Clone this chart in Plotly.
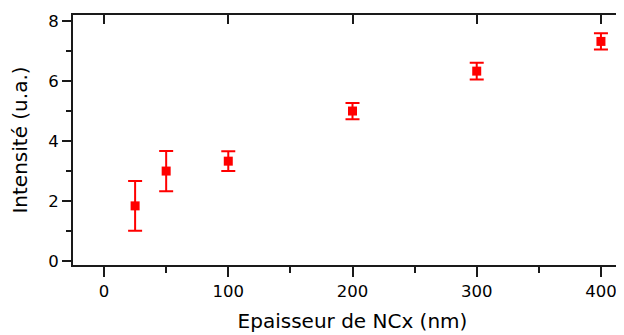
import plotly.graph_objects as go

thickness_nm = [25, 50, 100, 200, 300, 400]
intensity = [1.84, 3.0, 3.33, 5.0, 6.33, 7.32]
intensity_err = [0.83, 0.67, 0.33, 0.27, 0.28, 0.27]

x_ticks = [0, 100, 200, 300, 400]
y_ticks = [0, 2, 4, 6, 8]

RED = "#ff0000"
AX = "#1a1a1a"
FONT = "DejaVu Sans, Verdana, sans-serif"

fig = go.Figure()
fig.add_trace(go.Scatter(
    x=thickness_nm, y=intensity, mode="markers",
    marker=dict(symbol="square", size=9, color=RED),
    error_y=dict(type="data", array=intensity_err, visible=True,
                 color=RED, thickness=2, width=7),
    showlegend=False, hoverinfo="skip",
))
# invisible trace to anchor the top mirror axis
fig.add_trace(go.Scatter(x=[None], y=[None], xaxis="x2", showlegend=False))

xr = [-25, 425]
fig.update_layout(
    width=624, height=335,
    margin=dict(l=65, r=0, t=7, b=78),
    paper_bgcolor="white", plot_bgcolor="white",
    font=dict(family=FONT, size=16.5, color="#000"),
    xaxis=dict(
        range=xr, tickvals=x_ticks, ticks="outside", ticklen=10, tickwidth=2,
        tickcolor=AX, showline=True, linewidth=2, linecolor=AX,
        showgrid=False, zeroline=False, automargin=False,
        minor=dict(dtick=50, tick0=0, ticks="outside", ticklen=6, tickwidth=2,
                   tickcolor=AX, showgrid=False),
        title=dict(text="Epaisseur de NCx (nm)", font=dict(size=20), standoff=14),
        tickfont=dict(size=16.5),
    ),
    xaxis2=dict(
        range=xr, overlaying="x", side="top", tickvals=x_ticks, ticks="inside",
        ticklen=9, tickwidth=2, tickcolor=AX, showline=True, linewidth=2,
        linecolor=AX, showticklabels=False, showgrid=False, zeroline=False,
        automargin=False,
    ),
    yaxis=dict(
        range=[-0.13, 8.2], tickvals=y_ticks, ticks="outside", ticklen=9,
        tickwidth=2, tickcolor=AX, showline=True, linewidth=2, linecolor=AX,
        showgrid=False, zeroline=False, automargin=False,
        minor=dict(dtick=1, tick0=0, ticks="outside", ticklen=5, tickwidth=2,
                   tickcolor=AX, showgrid=False),
        title=dict(text="Intensité (u.a.)", font=dict(size=20), standoff=15),
        tickfont=dict(size=16.5),
    ),
)
fig.write_html("out.html")
